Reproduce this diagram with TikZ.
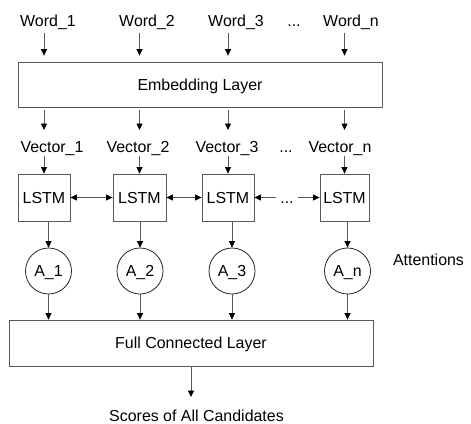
\documentclass[tikz,border=0pt]{standalone}
\usepackage{fontspec}
\setmainfont{Liberation Sans}
\usetikzlibrary{arrows.meta,calc}
\begin{document}
\begin{tikzpicture}[x=1bp,y=-1bp,
  every node/.style={font=\fontsize{16}{19}\selectfont, inner sep=1bp},
  lbl/.style={anchor=base},
  box/.style={draw=black!65, line width=0.8bp, inner sep=0pt,
              text height=11bp, text depth=0bp},
  lstm/.style={box, minimum height=47bp},
  att/.style={circle, draw=black!85, line width=0.8bp, minimum size=46bp,
              inner sep=0pt, text height=11bp, text depth=0bp},
  tip/.tip={Triangle[length=6.5bp,width=6bp,color=black]},
  arr/.style={draw=black!65, line width=0.8bp, -tip},
  biarr/.style={draw=black!65, line width=0.8bp, tip-tip}
]
\useasboundingbox (0,0) rectangle (471,423);

% input words
\node[lbl] (w1) at (48,26)  {Word\_1};
\node[lbl] (w2) at (147,26) {Word\_2};
\node[lbl] (w3) at (236,26) {Word\_3};
\node[lbl] (wd) at (294,26) {...};
\node[lbl] (wn) at (351,26) {Word\_n};

% embedding layer
\node[box, minimum width=364bp, minimum height=45bp] (emb) at (200,84.5) {Embedding Layer};

% embedded vectors
\node[lbl] (v1) at (52,152)  {Vector\_1};
\node[lbl] (v2) at (138,152) {Vector\_2};
\node[lbl] (v3) at (227,152) {Vector\_3};
\node[lbl] (vd) at (286,152) {...};
\node[lbl] (vn) at (340,152) {Vector\_n};

% LSTM cells
\node[lstm, minimum width=52bp] (l1) at (44,197.5)    {LSTM};
\node[lstm, minimum width=53bp] (l2) at (139.5,197.5) {LSTM};
\node[lstm, minimum width=52bp] (l3) at (228,197.5)   {LSTM};
\node[lstm, minimum width=49bp] (ln) at (344.5,197.5) {LSTM};
\node[lbl, inner sep=4bp] (ld) at (287,203.5) {...};

% attention weights
\node[att] (a1) at (48.5,271) {A\_1};
\node[att] (a2) at (140,271)  {A\_2};
\node[att] (a3) at (232,271)  {A\_3};
\node[att] (an) at (347.5,271) {A\_n};
\node[lbl] (attn) at (428.5,265) {Attentions};

% output layer
\node[box, minimum width=364bp, minimum height=46bp] (fc) at (191,343) {Full Connected Layer};
\node[lbl] (sc) at (196.5,421) {Scores of All Candidates};

% words -> embedding
\foreach \w/\c in {w1/l1, w2/l2, w3/l3, wn/ln}
  \draw[arr, shorten >=6bp] ($(\w.base -| \c)+(0,7)$) -- (\c |- emb.north);

% embedding -> vectors -> LSTM
\foreach \v/\c in {v1/l1, v2/l2, v3/l3, vn/ln} {
  \draw[arr, shorten <=3bp] (emb.south -| \c) -- ($(\v.base -| \c)+(0,-22)$);
  \draw[arr] ($(\v.base -| \c)+(0,4)$) -- (\c.north);
}

% bidirectional links between LSTM cells
\draw[biarr] (l1.east) -- (l2.west);
\draw[biarr] (l2.east) -- (l3.west);
\draw[arr] (ld.west |- l3.east) -- (l3.east);
\draw[arr] (ld.east |- ln.west) -- (ln.west);

% LSTM -> attentions -> fully connected layer
\foreach \c/\a in {l1/a1, l2/a2, l3/a3, ln/an} {
  \draw[arr] (\c.south -| \a) -- (\a.north);
  \draw[arr] (\a.south) -- (\a.south |- fc.north);
}

% fully connected layer -> scores
\draw[arr] (fc.south) -- ($(sc.base -| fc.south)+(0,-24)$);
\end{tikzpicture}
\end{document}
